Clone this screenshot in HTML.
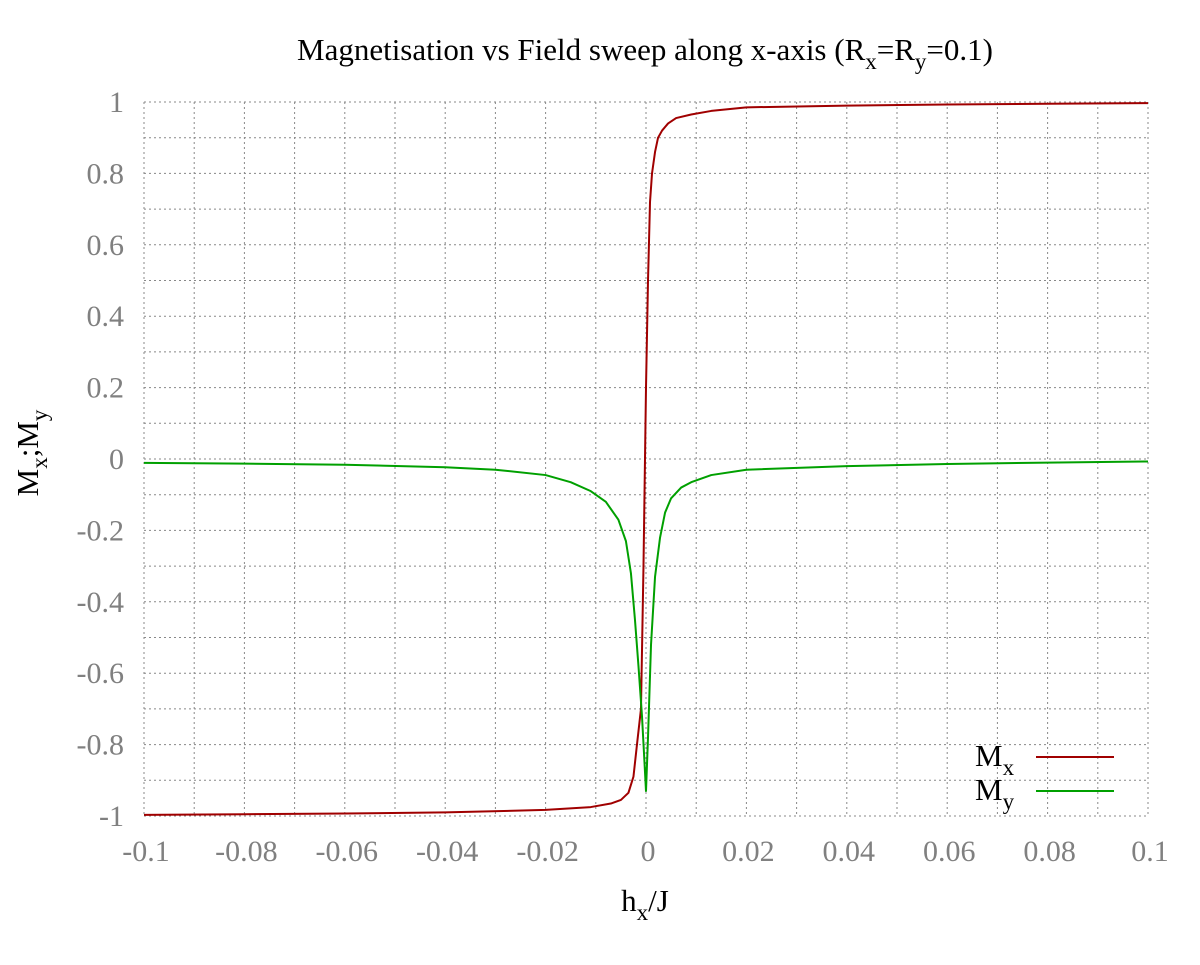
<!DOCTYPE html>
<html><head><meta charset="utf-8"><style>
body{margin:0;background:#fff}
svg text{font-family:"Liberation Serif",serif}
</style></head><body>
<svg id="chart" width="1200" height="960" xmlns="http://www.w3.org/2000/svg">
<g id="grid"></g>
<g id="ticks"></g>
<g id="series"></g>
<text x="645" y="60" font-size="31" text-anchor="middle" fill="#000">Magnetisation vs Field sweep along x-axis (R<tspan font-size="23" dy="9">x</tspan><tspan dy="-9">=R</tspan><tspan font-size="23" dy="9">y</tspan><tspan dy="-9">=0.1)</tspan></text>
<text x="645" y="911" font-size="31" text-anchor="middle">h<tspan font-size="23" dy="9">x</tspan><tspan dy="-9">/J</tspan></text>
<text transform="translate(38,453) rotate(-90)" font-size="31" text-anchor="middle">M<tspan font-size="23" dy="9">x</tspan><tspan dy="-9">;M</tspan><tspan font-size="23" dy="9">y</tspan></text>
<g>
<text x="975" y="766" font-size="31">M<tspan font-size="23" dy="9">x</tspan></text>
<line x1="1036" y1="757" x2="1114" y2="757" stroke="#a00000" stroke-width="2"/>
<text x="975" y="800" font-size="31">M<tspan font-size="23" dy="9">y</tspan></text>
<line x1="1036" y1="791" x2="1114" y2="791" stroke="#00a000" stroke-width="2"/>
</g>
</svg>
<script>
const xTicks=[-0.1,-0.08,-0.06,-0.04,-0.02,0,0.02,0.04,0.06,0.08,0.1];
const xTickLabels=["-0.1","-0.08","-0.06","-0.04","-0.02","0","0.02","0.04","0.06","0.08","0.1"];
const yTicks=[-1,-0.8,-0.6,-0.4,-0.2,0,0.2,0.4,0.6,0.8,1];
const yTickLabels=["-1","-0.8","-0.6","-0.4","-0.2","0","0.2","0.4","0.6","0.8","1"];
const mxX=[-0.1,-0.08,-0.06,-0.04,-0.02,-0.011,-0.007,-0.005,-0.0035,-0.0025,-0.0018,-0.001,-0.0005,0,0.0004,0.0008,0.0012,0.0018,0.0024,0.0032,0.0044,0.006,0.009,0.013,0.02,0.04,0.06,0.08,0.1];
const mxY=[-0.997,-0.995,-0.993,-0.99,-0.983,-0.975,-0.965,-0.955,-0.935,-0.89,-0.8,-0.7,-0.3,0.2,0.5,0.72,0.8,0.86,0.9,0.92,0.94,0.955,0.965,0.975,0.985,0.99,0.993,0.995,0.997];
const myX=[-0.1,-0.08,-0.06,-0.04,-0.03,-0.02,-0.015,-0.011,-0.008,-0.0055,-0.004,-0.003,-0.0022,-0.0015,-0.0008,-0.0003,0,0.0004,0.001,0.0018,0.0028,0.0038,0.005,0.007,0.009,0.013,0.02,0.04,0.06,0.08,0.1];
const myY=[-0.011,-0.013,-0.016,-0.023,-0.03,-0.045,-0.065,-0.09,-0.12,-0.17,-0.23,-0.32,-0.45,-0.58,-0.72,-0.85,-0.93,-0.78,-0.52,-0.33,-0.22,-0.15,-0.11,-0.08,-0.065,-0.045,-0.03,-0.02,-0.014,-0.01,-0.007];
const L=144,R=1148,T=102,B=816,NS="http://www.w3.org/2000/svg";
const sx=v=>L+(v+0.1)/0.2*(R-L), sy=v=>B-(v+1)/2*(B-T);
const grid=document.getElementById('grid'),ticks=document.getElementById('ticks'),series=document.getElementById('series');
for(let i=0;i<=20;i++){const v=-0.1+i*0.01;const l=document.createElementNS(NS,'line');


l.setAttribute('x1',sx(v));l.setAttribute('x2',sx(v));l.setAttribute('y1',T);l.setAttribute('y2',B);l.setAttribute('stroke','#888');l.setAttribute('stroke-dasharray','2,3');grid.appendChild(l);}
for(let i=0;i<=20;i++){const v=-1+i*0.1;const l=document.createElementNS(NS,'line');


l.setAttribute('y1',sy(v));l.setAttribute('y2',sy(v));l.setAttribute('x1',L);l.setAttribute('x2',R);l.setAttribute('stroke','#888');l.setAttribute('stroke-dasharray','2,3');grid.appendChild(l);}
xTicks.forEach((v,i)=>{const t=document.createElementNS(NS,'text');


t.setAttribute('x',sx(v)+2);t.setAttribute('y',861);t.setAttribute('text-anchor','middle');t.setAttribute('font-size','30');t.setAttribute('fill','#808080');t.textContent=xTickLabels[i];ticks.appendChild(t);});
yTicks.forEach((v,i)=>{const t=document.createElementNS(NS,'text');


t.setAttribute('x',124);t.setAttribute('y',sy(v)+10);t.setAttribute('text-anchor','end');t.setAttribute('font-size','30');t.setAttribute('fill','#808080');t.textContent=yTickLabels[i];ticks.appendChild(t);});
function line(xs,ys,c,name){const p=document.createElementNS(NS,'polyline');


p.setAttribute('points',xs.map((x,i)=>sx(x)+','+sy(ys[i])).join(' '));p.setAttribute('fill','none');p.setAttribute('stroke',c);p.setAttribute('stroke-width','2');p.setAttribute('stroke-linejoin','round');series.appendChild(p);}
line(mxX,mxY,'#a00000','mx-line');
line(myX,myY,'#00a000','my-line');
</script>
</body></html>
